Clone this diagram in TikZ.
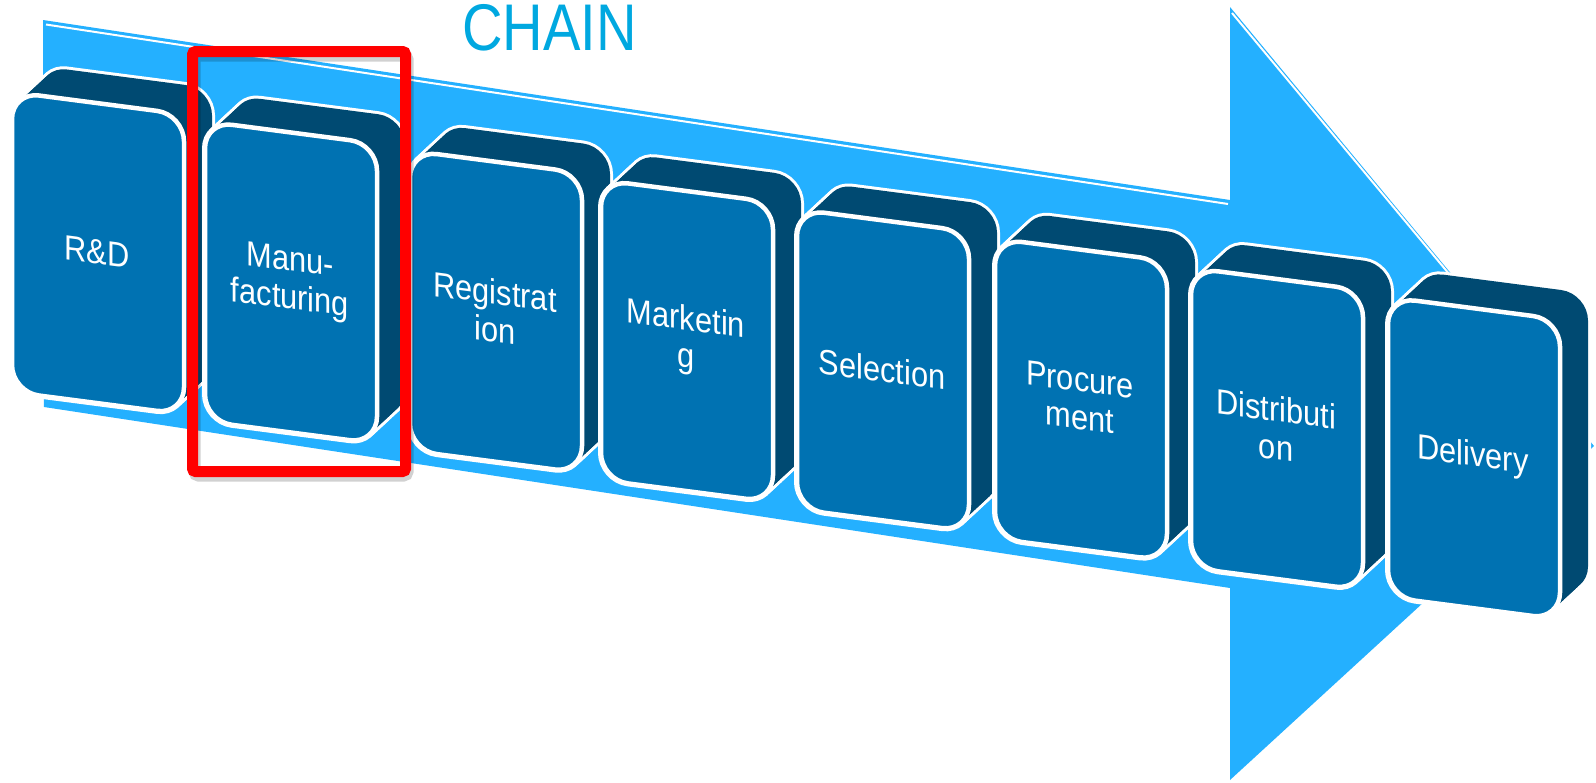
\documentclass[tikz,border=0pt]{standalone}
\usepackage{fontspec}
\setmainfont{Liberation Sans}
\newfontfamily\blockfont[FakeStretch=0.88]{Liberation Sans}
\newfontfamily\titlefont[FakeStretch=0.85]{Liberation Sans}
\definecolor{arrowblue}{RGB}{36,176,255}
\definecolor{facefront}{RGB}{0,114,178}
\definecolor{facedark}{RGB}{0,74,114}
\definecolor{titlecyan}{RGB}{0,168,224}
\definecolor{markred}{RGB}{255,0,0}

% outline of one block face: #1 = left edge, #2 = y of the top-left corner
\newcommand\faceoutline[2]{(#1,#2+150) -- (#1,#2) -- (#1+172,#2+22.4) -- (#1+172,#2+322.4) -- (#1,#2+300) -- cycle}

\begin{document}
\begin{tikzpicture}[x=1pt, y=-1pt,
  silhouette/.style={draw=white, line width=6pt, rounded corners=27pt},
  depth/.style={fill=facedark, rounded corners=27pt},
  frontface/.style={fill=facefront, draw=white, line width=4.5pt, rounded corners=27pt},
  blocktext/.style={text=white, align=center, inner sep=0pt,
    font=\blockfont\fontsize{35}{38}\selectfont},
  titletext/.style={text=titlecyan, inner sep=0pt,
    font=\titlefont\fontsize{66}{66}\selectfont},
  highlight/.style={draw=markred, line width=11pt, rounded corners=3pt},
]
\useasboundingbox (0,0) rectangle (1596,782);

% the large background arrow
\fill[arrowblue] (43,20) -- (1230,200) -- (1230,7) -- (1594,446)
  -- (1230,780) -- (1230,588) -- (44,407) -- cycle;
\draw[white, line width=2pt] (46,24.5) -- (1228,204);
\draw[white, line width=2pt] (1232,13) -- (1588,441);

% the extruded blocks, from left to right
\foreach \L/\T/\nm/\txt in {
    12/92/rd/{R\&D},
    205/121.3/manu/{Manu-\\facturing},
    410/150.6/reg/{Registrat\\ion},
    601/179.9/mkt/{Marketin\\g},
    797/209.2/sel/{Selection},
    995/238.5/proc/{Procure\\ment},
    1191/267.8/dist/{Distributi\\on},
    1388/297.1/deliv/{Delivery}}{
  \foreach \k in {0,...,10}
    \draw[silhouette, shift={(2.8*\k,-2.6*\k)}] \faceoutline{\L}{\T};
  \foreach \k in {1,...,10}
    \fill[depth, shift={(2.8*\k,-2.6*\k)}] \faceoutline{\L}{\T};
  \filldraw[frontface] \faceoutline{\L}{\T};
  \node[blocktext, yslant=-0.13] (\nm) at (\L+85,\T+160) {\txt};
}

% heading
\node[titletext, anchor=base west] (chain) at (462,50) {CHAIN};

% highlight frame around the second block
\draw[black, opacity=0.18, line width=12pt, rounded corners=4pt]
  (194.5,55.5) rectangle (407.5,475.5);
\draw[highlight] (192.5,51.5) rectangle (405.5,471.5);
\end{tikzpicture}
\end{document}
